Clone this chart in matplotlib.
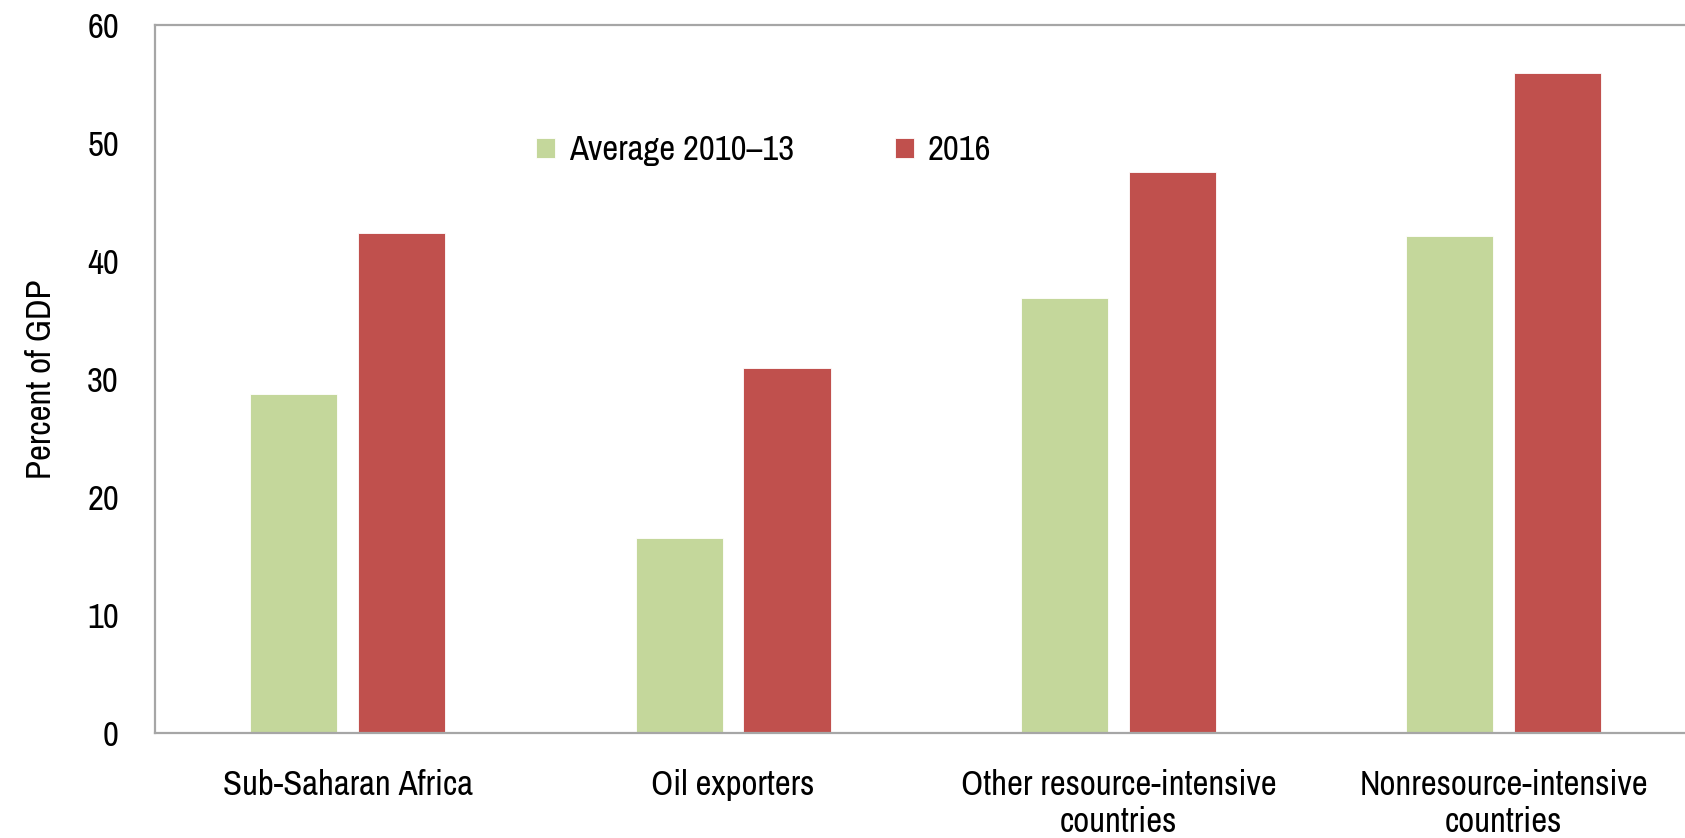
import matplotlib.pyplot as plt
import numpy as np

plt.rcParams["font.family"] = ["Archivo Narrow", "Liberation Sans", "DejaVu Sans"]

categories = [
    "Sub-Saharan Africa",
    "Oil exporters",
    "Other resource-intensive\ncountries",
    "Nonresource-intensive\ncountries",
]
avg_2010_13 = [28.7, 16.5, 36.9, 42.1]
val_2016 = [42.4, 30.9, 47.5, 55.9]
series_labels = ["Average 2010\u201313", "2016"]
y_ticks = [0, 10, 20, 30, 40, 50, 60]

GREEN = "#C4D79B"
RED = "#C0504D"
SPINE = "#A6A6A6"
FS = 25

fig = plt.figure(figsize=(16.85, 8.38), dpi=100)
ax = fig.add_axes([155 / 1685, 1 - 733 / 838, 1 - 155 / 1685, (733 - 25) / 838])

x = np.arange(len(categories))
width = 0.226
offset = 0.14
ax.bar(x - offset, avg_2010_13, width, color=GREEN, edgecolor="white", linewidth=0.6,
       label=series_labels[0])
ax.bar(x + offset, val_2016, width, color=RED, edgecolor="white", linewidth=0.6,
       label=series_labels[1])

ax.set_xlim(-0.5, 3.47)
ax.set_ylim(0, 60)
ax.set_yticks(y_ticks)
ax.set_xticks(x)
ax.set_xticklabels(categories, fontsize=FS, linespacing=1.2)
ax.tick_params(axis="y", length=0, labelsize=FS, pad=26)
ax.tick_params(axis="x", length=0, pad=26)
ax.set_ylabel("Percent of GDP", fontsize=FS, labelpad=22)

for side in ["left", "bottom", "top"]:
    ax.spines[side].set_color(SPINE)
    ax.spines[side].set_linewidth(1.6)
ax.spines["right"].set_visible(False)

ax.legend(loc="center", bbox_to_anchor=(0.398, 0.823), ncol=2, frameon=False,
          fontsize=FS, handlelength=0.55, handleheight=0.55, handletextpad=0.4,
          columnspacing=2.9)

fig.savefig("out.png", dpi=100)
